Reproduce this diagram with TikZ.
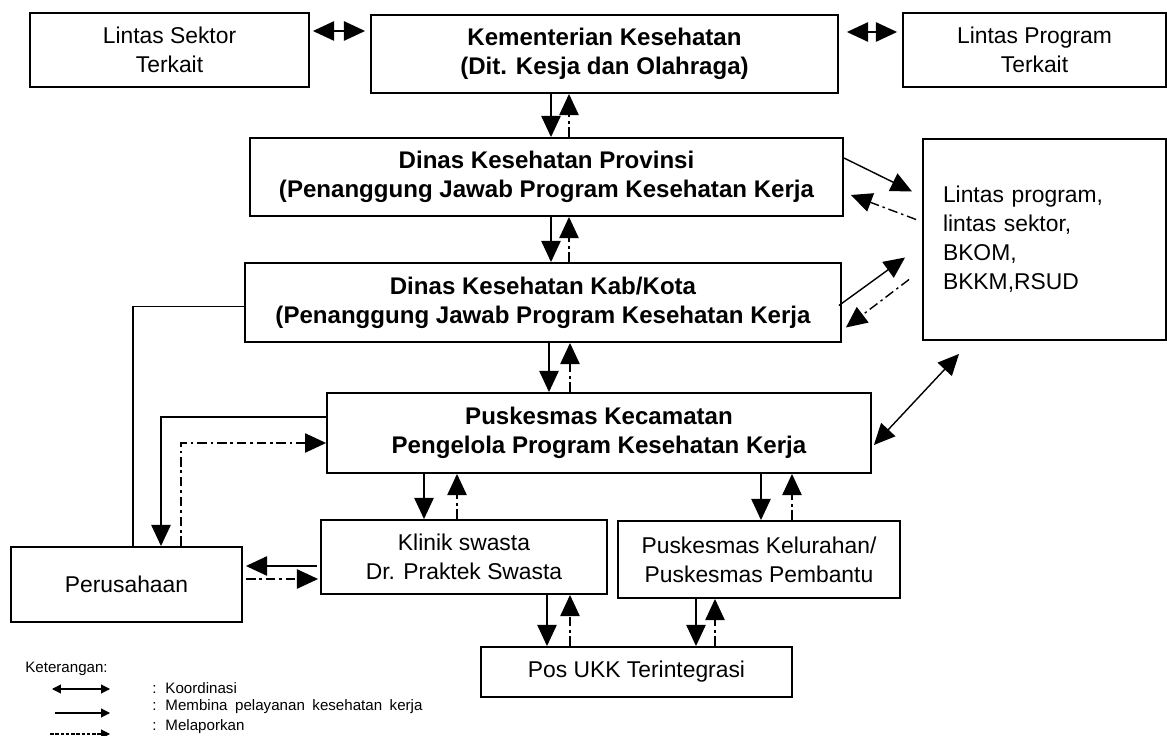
\documentclass[tikz,border=0pt]{standalone}
\usepackage{fontspec}
\setmainfont{Liberation Sans}
\usetikzlibrary{arrows.meta, calc, positioning}
\tikzset{
  box/.style={draw, line width=1.1pt, align=center, inner sep=2pt},
  tebal/.style={box, font=\fontsize{13.7}{16.5}\selectfont\bfseries},
  biasa/.style={box, font=\fontsize{13}{16.5}\selectfont},
  garis/.style={line width=0.8pt},
  bina/.style={garis, -{Triangle[length=12pt,width=11pt]}},
  lapor/.style={bina, dash pattern=on 5.5pt off 2.2pt on 1.4pt off 2.2pt},
  koord/.style={garis, {Triangle[length=12pt,width=11pt]}-{Triangle[length=12pt,width=11pt]}},
  ket/.style={anchor=west, inner sep=0pt, font={\fontsize{8.6}{11}\selectfont\spaceskip=0.5em\relax}},
  kecil/.style={line width=0.6pt, -{Triangle[length=5pt,width=5pt]}}}

\begin{document}
\begin{tikzpicture}[x=0.02cm, y=-0.02cm]
  \useasboundingbox (0,0) rectangle (1167,736);
    \node[biasa, minimum width=5.58cm, minimum height=1.48cm] (sektor) at (169.5,50) {Lintas Sektor\\Terkait};
    \node[tebal, minimum width=9.34cm, minimum height=1.56cm] (kemenkes) at (604.5,54) {Kementerian Kesehatan\\(Dit. Kesja dan Olahraga)};
    \node[biasa, minimum width=5.26cm, minimum height=1.48cm] (program) at (1034.5,50) {Lintas Program\\Terkait};
    \node[tebal, minimum width=11.86cm, minimum height=1.56cm] (prov) at (546.5,177) {Dinas Kesehatan Provinsi\\(Penanggung Jawab Program Kesehatan Kerja};
    \node[tebal, minimum width=11.92cm, minimum height=1.58cm] (kab) at (543,302.5) {Dinas Kesehatan Kab/Kota\\(Penanggung Jawab Program Kesehatan Kerja};
    \node[biasa, align=left, text width=4.06cm, inner xsep=0.4cm, minimum height=4.02cm] (lintas) at (1044.5,239.5) {Lintas program,\\lintas sektor,\\BKOM,\\BKKM,RSUD};
    \node[tebal, minimum width=10.88cm, minimum height=1.6cm] (pusk) at (599,433) {Puskesmas Kecamatan\\Pengelola Program Kesehatan Kerja};
    \node[biasa, minimum width=5.72cm, minimum height=1.48cm] (klinik) at (464,557) {Klinik swasta\\Dr. Praktek Swasta};
    \node[biasa, minimum width=5.64cm, minimum height=1.54cm] (kelurahan) at (759,559.5) {Puskesmas Kelurahan/\\Puskesmas Pembantu};
    \node[biasa, minimum width=4.62cm, minimum height=1.5cm] (perusahaan) at (126.5,584.5) {Perusahaan};
    \node[biasa, minimum width=6.22cm, minimum height=1.0cm] (pos) at (636.5,672) {Pos UKK Terintegrasi};

    \draw[koord] ($(sektor.east)+(3,-19)$) -- ($(kemenkes.west)+(-5,-23)$);
    \draw[koord] ($(kemenkes.east)+(8,-22)$) -- ($(program.west)+(-5,-18)$);

    \foreach \a/\b/\p/\q in {kemenkes/prov/551/569, prov/kab/551/569, kab/pusk/549/570,
      pusk/klinik/424/457, pusk/kelurahan/761/792, klinik/pos/547/570, kelurahan/pos/696/715}{
      \coordinate (p) at (\p,0);
      \coordinate (q) at (\q,0);
      \draw[bina] (\a.south -| p) -- (\b.north -| p);
      \draw[lapor] (\b.north -| q) -- (\a.south -| q);
    }

    \draw[bina] ($(prov.east)+(0,-19)$) -- ($(lintas.west)+(-10,-48)$);
    \draw[lapor] ($(lintas.west)+(-6,-20)$) -- ($(prov.east)+(7,18)$);
    \draw[bina] ($(kab.east)+(-3,3)$) -- ($(lintas.west)+(-17,18)$);
    \draw[lapor] ($(lintas.west)+(-13,40)$) -- ($(kab.east)+(4,25)$);
    \draw[koord] ($(pusk.east)+(2,12)$) -- ($(lintas.south west)+(37,13)$);

    \draw[garis] ($(kab.west)+(0,4)$) -| ($(perusahaan.north)+(6.5,0)$);
    \draw[bina] ($(pusk.west)+(0,-16)$) -| ($(perusahaan.north)+(34.5,0)$);
    \draw[lapor] ($(perusahaan.north)+(54.5,0)$) |- ($(pusk.west)+(0,10)$);
    \draw[bina] ($(klinik.west)+(-3,9)$) -- ($(perusahaan.east)+(3,-18.5)$);
    \draw[lapor] ($(perusahaan.east)+(3,-5.5)$) -- ($(klinik.west)+(-2,22)$);

    \node[ket] (keterangan) at (25,669) {Keterangan:};
    \node[ket] (koordinasi) at (152,688) {: Koordinasi};
    \node[ket] (membina) at (152,707) {: Membina pelayanan kesehatan kerja};
    \node[ket] (melapor) at (152,727) {: Melaporkan};
    \coordinate (k1) at (52,689); \coordinate (k2) at (110,689);
    \coordinate (m1) at (55,713); \coordinate (m2) at (110,713);
    \coordinate (l1) at (50,734); \coordinate (l2) at (110,734);
    \draw[kecil, {Triangle[length=5pt,width=5pt]}-{Triangle[length=5pt,width=5pt]}] (k1) -- (k2);
    \draw[kecil] (m1) -- (m2);
    \draw[kecil, dash pattern=on 2pt off 1pt] (l1) -- (l2);
\end{tikzpicture}
\end{document}
